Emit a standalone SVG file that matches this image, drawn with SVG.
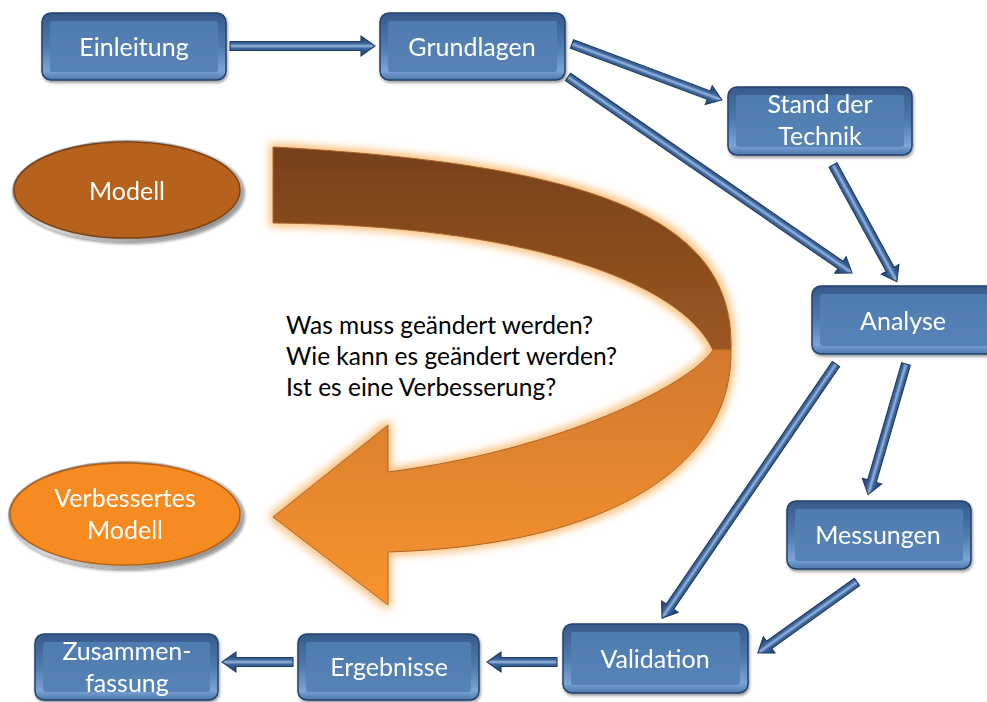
<svg xmlns="http://www.w3.org/2000/svg" width="987" height="702" viewBox="0 0 987 702">
<style>
.lbl{font-family:Lato,"Liberation Sans",sans-serif;font-size:25px;fill:#ffffff;text-anchor:middle}
.q{font-family:Lato,"Liberation Sans",sans-serif;font-size:24.5px;fill:#000000}
.frame{fill:url(#bev);stroke:#24426B;stroke-width:1.5}
.face{fill:url(#face)}
.arr{fill:url(#ag);stroke:#1F3B63;stroke-width:1.1;stroke-linejoin:miter}
</style>
<defs>
<linearGradient id="bev" x1="0" y1="0" x2="0" y2="1">
<stop offset="0" stop-color="#355887"/>
<stop offset="0.14" stop-color="#3D6495"/>
<stop offset="0.5" stop-color="#4E7BAF"/>
<stop offset="0.86" stop-color="#7BA4D7"/>
<stop offset="1" stop-color="#4C77AB"/>
</linearGradient>
<linearGradient id="face" x1="0" y1="0" x2="0" y2="1">
<stop offset="0" stop-color="#4F7CB0"/>
<stop offset="1" stop-color="#5683B7"/>
</linearGradient>
<linearGradient id="ag" gradientUnits="userSpaceOnUse" x1="0" y1="-6" x2="0" y2="6">
<stop offset="0" stop-color="#2B4E80"/>
<stop offset="0.3" stop-color="#3F679B"/>
<stop offset="0.5" stop-color="#93B5DF"/>
<stop offset="0.7" stop-color="#3F679B"/>
<stop offset="1" stop-color="#2B4E80"/>
</linearGradient>
<linearGradient id="big" gradientUnits="userSpaceOnUse" x1="0" y1="147" x2="0" y2="605">
<stop offset="0" stop-color="#76411A"/>
<stop offset="0.44" stop-color="#9B5722"/>
<stop offset="0.445" stop-color="#D3792D"/>
<stop offset="1" stop-color="#F8932F"/>
</linearGradient>
<linearGradient id="rim" x1="0" y1="0" x2="1" y2="1">
<stop offset="0" stop-color="#6E6E6E"/>
<stop offset="0.5" stop-color="#D8D8D8"/>
<stop offset="1" stop-color="#7A7A7A"/>
</linearGradient>
<filter id="glow" x="-10%" y="-10%" width="120%" height="120%">
<feMorphology in="SourceAlpha" operator="dilate" radius="3" result="d"/>
<feGaussianBlur in="d" stdDeviation="4" result="b"/>
<feFlood flood-color="#F9B35F" flood-opacity="0.85"/>
<feComposite in2="b" operator="in" result="g"/>
<feMerge><feMergeNode in="g"/><feMergeNode in="SourceGraphic"/></feMerge>
</filter>
<filter id="sh" x="-10%" y="-10%" width="125%" height="130%">
<feDropShadow dx="1" dy="2" stdDeviation="1.5" flood-color="#000" flood-opacity="0.4"/>
</filter>
</defs>
<rect width="987" height="702" fill="#ffffff"/>

<g id="connectors">
<path id="cycle-arrow" filter="url(#glow)" fill="url(#big)" stroke="#A8622A" stroke-width="1" d="M273,147 C600,165 735,220 731,350 C733,460 620,545 388,552 L388,605 L273,517 L388,425 L388,472 C560,450 690,385 713,350 C680,280 520,225 273,223 Z"/>
<path class="arr" transform="translate(230,46)" d="M0,-4.5H131V-10L145,0L131,10V4.5H0Z"/>
<path class="arr" transform="translate(572,44) rotate(20.5)" d="M0,-4.5H146V-10L160,0L146,10V4.5H0Z"/>
<path class="arr" transform="translate(568,77) rotate(34.6)" d="M0,-4.5H331V-10L345,0L331,10V4.5H0Z"/>
<path class="arr" transform="translate(833,165) rotate(61.3)" d="M0,-4.5H119V-10L133,0L119,10V4.5H0Z"/>
<path class="arr" transform="translate(836,364) rotate(124.4)" d="M0,-4.5H294V-10L308,0L294,10V4.5H0Z"/>
<path class="arr" transform="translate(906,364) rotate(106.2)" d="M0,-4.5H122V-10L136,0L122,10V4.5H0Z"/>
<path class="arr" transform="translate(857,582) rotate(144.4)" d="M0,-4.5H108V-10L122,0L108,10V4.5H0Z"/>
<path class="arr" transform="translate(557,662) rotate(180)" d="M0,-4.5H56V-10L70,0L56,10V4.5H0Z"/>
<path class="arr" transform="translate(293,662) rotate(180)" d="M0,-4.5H57V-10L71,0L57,10V4.5H0Z"/>
</g>

<g id="einleitung" filter="url(#sh)">
<rect class="frame" x="42" y="13" width="184" height="67" rx="9"/>
<rect class="face" x="50" y="21" width="168" height="51" rx="3"/>
<text class="lbl" x="134" y="56">Einleitung</text>
</g>
<g id="grundlagen" filter="url(#sh)">
<rect class="frame" x="380" y="13" width="185" height="67" rx="9"/>
<rect class="face" x="388" y="21" width="169" height="51" rx="3"/>
<text class="lbl" x="472" y="56">Grundlagen</text>
</g>
<g id="stand" filter="url(#sh)">
<rect class="frame" x="728" y="87" width="184" height="68" rx="9"/>
<rect class="face" x="736" y="95" width="168" height="52" rx="3"/>
<text class="lbl" x="820" y="113">Stand der</text>
<text class="lbl" x="820" y="145">Technik</text>
</g>
<g id="analyse" filter="url(#sh)">
<rect class="frame" x="812" y="286" width="184" height="68" rx="9"/>
<rect class="face" x="820" y="294" width="168" height="52" rx="3"/>
<text class="lbl" x="903" y="330">Analyse</text>
</g>
<g id="messungen" filter="url(#sh)">
<rect class="frame" x="787" y="501" width="184" height="68" rx="9"/>
<rect class="face" x="795" y="509" width="168" height="52" rx="3"/>
<text class="lbl" x="878" y="544">Messungen</text>
</g>
<g id="validation" filter="url(#sh)">
<rect class="frame" x="563" y="624" width="185" height="69" rx="9"/>
<rect class="face" x="571" y="632" width="169" height="53" rx="3"/>
<text class="lbl" x="655" y="668">Validation</text>
</g>
<g id="ergebnisse" filter="url(#sh)">
<rect class="frame" x="298" y="634" width="181" height="66" rx="9"/>
<rect class="face" x="306" y="642" width="165" height="50" rx="3"/>
<text class="lbl" x="389" y="676">Ergebnisse</text>
</g>
<g id="zusammenfassung" filter="url(#sh)">
<rect class="frame" x="35" y="634" width="183" height="66" rx="9"/>
<rect class="face" x="43" y="642" width="167" height="50" rx="3"/>
<text class="lbl" x="127" y="660">Zusammen-</text>
<text class="lbl" x="127" y="692">fassung</text>
</g>

<g id="modell" filter="url(#sh)">
<ellipse cx="128" cy="191" rx="116" ry="51" fill="url(#rim)"/>
<ellipse cx="127" cy="190" rx="113" ry="48" fill="#B7621F" stroke="#7C4214" stroke-width="1.5"/>
<text class="lbl" x="127" y="200">Modell</text>
</g>
<g id="verbessertes-modell" filter="url(#sh)">
<ellipse cx="126" cy="515" rx="118" ry="54" fill="url(#rim)"/>
<ellipse cx="125" cy="514" rx="115" ry="51" fill="#F68B20" stroke="#B45E12" stroke-width="1.5"/>
<text class="lbl" x="125" y="507">Verbessertes</text>
<text class="lbl" x="125" y="539">Modell</text>
</g>

<g id="fragen">
<text class="q" x="286" y="334">Was muss geändert werden?</text>
<text class="q" x="286" y="365">Wie kann es geändert werden?</text>
<text class="q" x="286" y="396">Ist es eine Verbesserung?</text>
</g>
</svg>
